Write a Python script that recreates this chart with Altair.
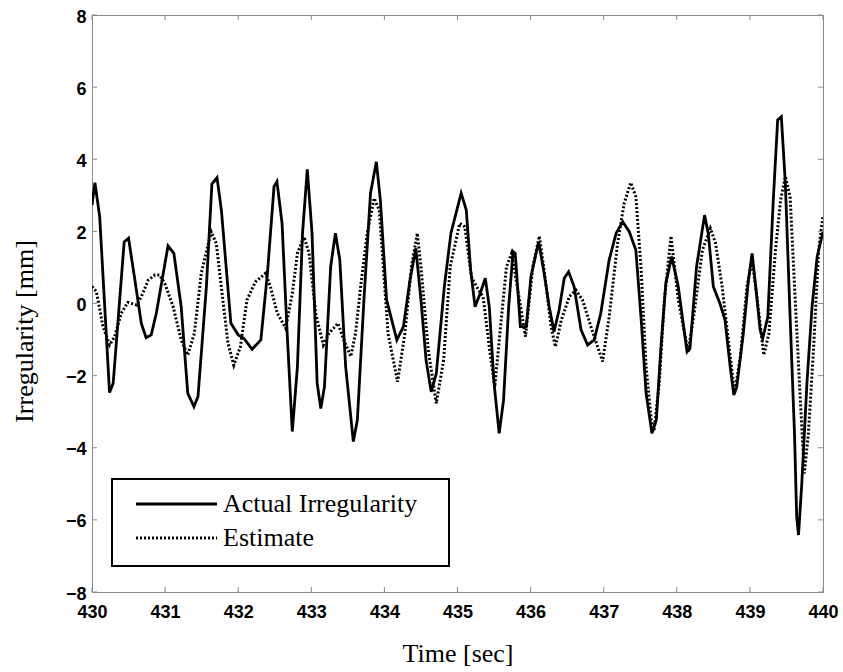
import altair as alt
import pandas as pd

# ---- data ----
t_actual = [430.0, 430.04, 430.105, 430.24, 430.29, 430.44, 430.50, 430.58, 430.675, 430.74,
            430.81, 430.88, 431.04, 431.12, 431.22, 431.31, 431.395, 431.45, 431.565, 431.64,
            431.71, 431.77, 431.90, 432.0, 432.08, 432.19, 432.31, 432.40, 432.49, 432.53,
            432.60, 432.67, 432.74, 432.81, 432.88, 432.945, 433.01, 433.08, 433.13, 433.18,
            433.265, 433.33, 433.39, 433.47, 433.575, 433.63, 433.72, 433.81, 433.89, 433.945,
            434.03, 434.17, 434.26, 434.35, 434.43, 434.50, 434.57, 434.64, 434.71, 434.82,
            434.91, 435.05, 435.12, 435.18, 435.24, 435.31, 435.38, 435.435, 435.50, 435.57,
            435.63, 435.70, 435.76, 435.79, 435.86, 435.94, 436.005, 436.11, 436.185, 436.255,
            436.32, 436.39, 436.46, 436.52, 436.595, 436.69, 436.78, 436.87, 436.96, 437.075,
            437.17, 437.26, 437.35, 437.44, 437.51, 437.58, 437.66, 437.72, 437.78, 437.85,
            437.93, 438.02, 438.14, 438.18, 438.27, 438.38, 438.43, 438.50, 438.59, 438.66,
            438.73, 438.78, 438.82, 438.91, 438.98, 439.03, 439.08, 439.14, 439.175, 439.245,
            439.32, 439.38, 439.43, 439.485, 439.55, 439.61, 439.64, 439.665, 439.71, 439.78,
            439.85, 439.92, 440.0]
v_actual = [2.73, 3.35, 2.41, -2.47, -2.21, 1.71, 1.81, 0.74, -0.55, -0.95,
            -0.87, -0.27, 1.60, 1.39, -0.09, -2.49, -2.86, -2.58, 0.47, 3.31,
            3.49, 2.59, -0.55, -0.87, -0.97, -1.27, -1.01, 0.84, 3.24, 3.38,
            2.22, -0.83, -3.55, -1.75, 1.95, 3.72, 1.95, -2.21, -2.91, -2.31,
            1.02, 1.95, 1.21, -1.75, -3.83, -3.23, 0.10, 3.06, 3.93, 2.87,
            0.10, -1.01, -0.64, 0.65, 1.53, 0.10, -1.57, -2.45, -1.94, 0.47,
            1.95, 3.06, 2.59, 0.93, -0.09, 0.28, 0.70, -0.09, -2.21, -3.60,
            -2.68, -0.09, 1.44, 1.39, -0.64, -0.64, 0.74, 1.71, 0.84, -0.09,
            -0.78, -0.18, 0.70, 0.88, 0.47, -0.73, -1.15, -1.01, -0.27, 1.21,
            1.95, 2.27, 1.99, 1.48, -0.37, -2.49, -3.60, -3.23, -1.29, 0.56,
            1.30, 0.47, -1.34, -1.25, 1.02, 2.45, 1.95, 0.47, 0.0, -0.46,
            -1.75, -2.54, -2.31, -0.83, 0.65, 1.39, 0.47, -0.73, -0.97, -0.37,
            2.87, 5.09, 5.18, 3.33, -0.37, -3.60, -5.91, -6.42, -4.99, -2.21,
            -0.09, 1.30, 1.99]

t_est = [430.0, 430.06, 430.15, 430.24, 430.31, 430.40, 430.49, 430.61, 430.675, 430.77,
         430.86, 430.925, 430.995, 431.11, 431.22, 431.31, 431.40, 431.495, 431.63, 431.70,
         431.79, 431.86, 431.94, 432.03, 432.12, 432.235, 432.375, 432.44, 432.535, 432.65,
         432.74, 432.81, 432.90, 432.97, 433.06, 433.165, 433.24, 433.365, 433.445, 433.54,
         433.605, 433.675, 433.765, 433.86, 433.93, 434.05, 434.18, 434.28, 434.37, 434.45,
         434.50, 434.60, 434.71, 434.81, 434.90, 435.03, 435.10, 435.19, 435.26, 435.35,
         435.44, 435.51, 435.58, 435.67, 435.74, 435.81, 435.93, 436.03, 436.12, 436.185,
         436.28, 436.34, 436.42, 436.53, 436.62, 436.71, 436.825, 436.985, 437.075, 437.19,
         437.28, 437.37, 437.44, 437.51, 437.58, 437.65, 437.69, 437.76, 437.83, 437.92,
         438.02, 438.155, 438.23, 438.35, 438.46, 438.53, 438.62, 438.71, 438.79, 438.87,
         438.96, 439.03, 439.10, 439.19, 439.26, 439.35, 439.42, 439.485, 439.55, 439.62,
         439.69, 439.745, 439.80, 439.87, 439.94, 440.0]
v_est = [0.47, 0.33, -0.64, -1.15, -0.92, -0.27, 0.03, -0.04, 0.19, 0.65,
         0.79, 0.79, 0.56, -0.09, -1.01, -1.43, -0.83, 0.84, 1.99, 1.67,
         0.10, -1.10, -1.71, -1.20, 0.10, 0.60, 0.84, 0.47, -0.27, -0.69,
         0.28, 1.39, 1.85, 1.39, -0.27, -1.15, -0.83, -0.55, -1.01, -1.47,
         -0.83, 0.47, 1.95, 2.92, 2.59, -0.83, -2.17, -0.83, 1.02, 1.95,
         1.02, -1.29, -2.77, -1.57, 1.02, 2.22, 2.13, 0.74, 0.47, 0.19,
         -1.29, -2.31, -0.83, 1.02, 1.39, 0.56, -0.92, 1.02, 1.87, 0.93,
         -0.64, -1.20, -0.46, 0.19, 0.37, 0.10, -0.64, -1.61, -0.37, 1.67,
         2.78, 3.35, 2.96, 1.02, -1.75, -3.23, -3.51, -2.21, 0.10, 1.87,
         0.10, -1.34, -0.37, 1.48, 2.08, 1.67, 0.47, -1.10, -2.49, -1.47,
         0.47, 1.21, 0.10, -1.43, -0.83, 1.48, 2.87, 3.52, 2.96, 0.10,
         -2.68, -4.71, -3.60, -1.29, 1.48, 2.45]

x_ticks = list(range(430, 441))
y_ticks = list(range(-8, 9, 2))
legend_labels = ["Actual Irregularity", "Estimate"]

# ---- layout ----
W, H = 731, 577
FRAME = "#8a8a8a"
SERIF = "Liberation Serif"
SANS = "Liberation Sans"

df_a = pd.DataFrame({"t": t_actual, "v": v_actual})
df_e = pd.DataFrame({"t": t_est, "v": v_est})
df_xt = pd.DataFrame({"t": x_ticks})
df_yt = pd.DataFrame({"v": y_ticks})
df_leg = pd.DataFrame({"label": legend_labels})

x_scale = alt.Scale(domain=[430, 440], nice=False, zero=False)
y_scale = alt.Scale(domain=[-8, 8], nice=False, zero=False)

x_axis = alt.Axis(values=x_ticks, title="Time [sec]", format="d", tickSize=0, labelFlush=False,
                  labelFont=SANS, labelFontWeight="bold", labelFontSize=18, labelColor="black",
                  labelPadding=11, titleFont=SERIF, titleFontWeight="normal", titleFontSize=26,
                  titleColor="black", titlePadding=19, grid=False, domainColor=FRAME)
y_axis = alt.Axis(values=y_ticks, title="Irregularity [mm]", format="d", tickSize=0,
                  labelFlush=False,
                  labelFont=SANS, labelFontWeight="bold", labelFontSize=18, labelColor="black",
                  labelPadding=6, labelOffset=2, titleFont=SERIF, titleFontWeight="normal",
                  titleFontSize=26, titleColor="black", titlePadding=28, titleY=316,
                  grid=False, domainColor=FRAME)

actual = alt.Chart(df_a).mark_line(color="black", strokeWidth=2.8, clip=True).encode(
    x=alt.X("t:Q", scale=x_scale, axis=x_axis),
    y=alt.Y("v:Q", scale=y_scale, axis=y_axis),
)
estimate = alt.Chart(df_e).mark_line(color="black", strokeWidth=3, strokeDash=[2, 2],
                                      clip=True).encode(
    x=alt.X("t:Q", scale=x_scale),
    y=alt.Y("v:Q", scale=y_scale),
)

tick_style = dict(color=FRAME, strokeWidth=1)
xt_bottom = alt.Chart(df_xt).mark_rule(**tick_style).encode(
    x=alt.X("t:Q", scale=x_scale), y=alt.value(H), y2=alt.value(H - 5))
xt_top = alt.Chart(df_xt).mark_rule(**tick_style).encode(
    x=alt.X("t:Q", scale=x_scale), y=alt.value(0), y2=alt.value(5))
yt_left = alt.Chart(df_yt).mark_rule(**tick_style).encode(
    y=alt.Y("v:Q", scale=y_scale), x=alt.value(0), x2=alt.value(5))
yt_right = alt.Chart(df_yt).mark_rule(**tick_style).encode(
    y=alt.Y("v:Q", scale=y_scale), x=alt.value(W), x2=alt.value(W - 5))

# ---- legend (drawn inside the plot, lower left) ----
LX0, LX1, LY0, LY1 = 20, 357, 464, 551
ROW1, ROW2 = 489, 523
leg_box = alt.Chart(df_leg.iloc[[0]]).mark_rect(fill="white", stroke="black",
                                                 strokeWidth=2).encode(
    x=alt.value(LX0), x2=alt.value(LX1), y=alt.value(LY0), y2=alt.value(LY1))
leg_solid = alt.Chart(df_leg.iloc[[0]]).mark_rule(color="black", strokeWidth=2.8).encode(
    x=alt.value(44), x2=alt.value(125), y=alt.value(ROW1))
leg_dot = alt.Chart(df_leg.iloc[[1]]).mark_rule(color="black", strokeWidth=3,
                                                strokeDash=[2, 2]).encode(
    x=alt.value(44), x2=alt.value(125), y=alt.value(ROW2))
leg_t1 = alt.Chart(df_leg.iloc[[0]]).mark_text(align="left", baseline="middle", font=SERIF,
                                               fontSize=26, color="black").encode(
    x=alt.value(131), y=alt.value(ROW1), text="label:N")
leg_t2 = alt.Chart(df_leg.iloc[[1]]).mark_text(align="left", baseline="middle", font=SERIF,
                                               fontSize=26, color="black").encode(
    x=alt.value(131), y=alt.value(ROW2), text="label:N")

chart = alt.layer(
    actual, estimate, xt_bottom, xt_top, yt_left, yt_right,
    leg_box, leg_solid, leg_dot, leg_t1, leg_t2,
).properties(
    width=W, height=H,
    padding={"left": 92, "top": 15, "right": 20, "bottom": 80},
    autosize=alt.AutoSizeParams(type="none"),
    background="white",
).configure_view(stroke=FRAME, strokeWidth=1)

chart.save("out.html", embed_options={"renderer": "svg", "actions": False})
